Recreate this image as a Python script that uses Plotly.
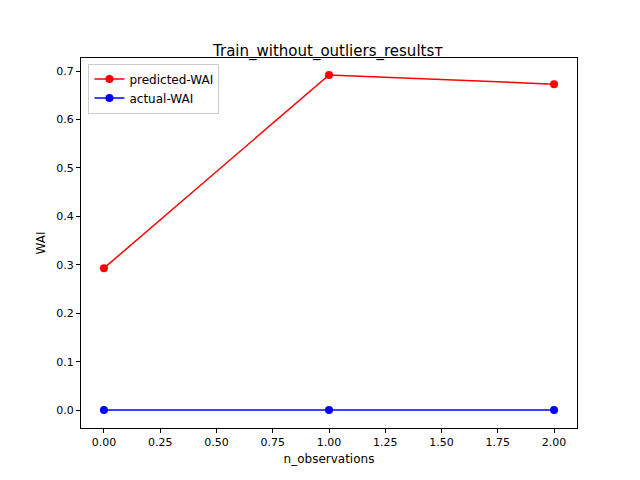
import plotly.graph_objects as go

x_obs = [0, 1, 2]
predicted = [0.293, 0.692, 0.673]
actual = [0.0, 0.0, 0.0]

fig = go.Figure()
fig.add_trace(go.Scatter(x=x_obs, y=predicted, mode='lines+markers', name='predicted-WAI',
                         line=dict(color='red', width=1.5), marker=dict(color='red', size=8)))
fig.add_trace(go.Scatter(x=x_obs, y=actual, mode='lines+markers', name='actual-WAI',
                         line=dict(color='blue', width=1.5), marker=dict(color='blue', size=8)))

axis = dict(showgrid=False, zeroline=False, showline=True, mirror=True, linecolor='black',
            linewidth=1, ticks='outside', ticklen=4, tickcolor='black',
            tickfont=dict(size=11, color='black'), automargin=False)
fig.update_layout(
    width=640, height=480,
    font=dict(family='DejaVu Sans', color='black'),
    title=dict(text='Train_without_outliers_resultsт', x=0.5, xanchor='center',
               y=0.91, yanchor='middle', font=dict(size=15)),
    margin=dict(l=73, r=71, t=50, b=60),
    plot_bgcolor='white', paper_bgcolor='white',
    xaxis=dict(axis, range=[-0.102, 2.102], tickvals=[0, 0.25, 0.5, 0.75, 1, 1.25, 1.5, 1.75, 2],
               ticktext=['0.00', '0.25', '0.50', '0.75', '1.00', '1.25', '1.50', '1.75', '2.00'],
               title=dict(text='n_observations', font=dict(size=12), standoff=6)),
    yaxis=dict(axis, range=[-0.037, 0.727], tickvals=[0, 0.1, 0.2, 0.3, 0.4, 0.5, 0.6, 0.7],
               tickformat='.1f', title=dict(text='WAI', font=dict(size=12), standoff=8)),
    legend=dict(x=0.015, y=0.985, xanchor='left', yanchor='top', bordercolor='#cccccc',
                borderwidth=1, bgcolor='white', font=dict(size=12)),
)
fig.write_html('out.html')
